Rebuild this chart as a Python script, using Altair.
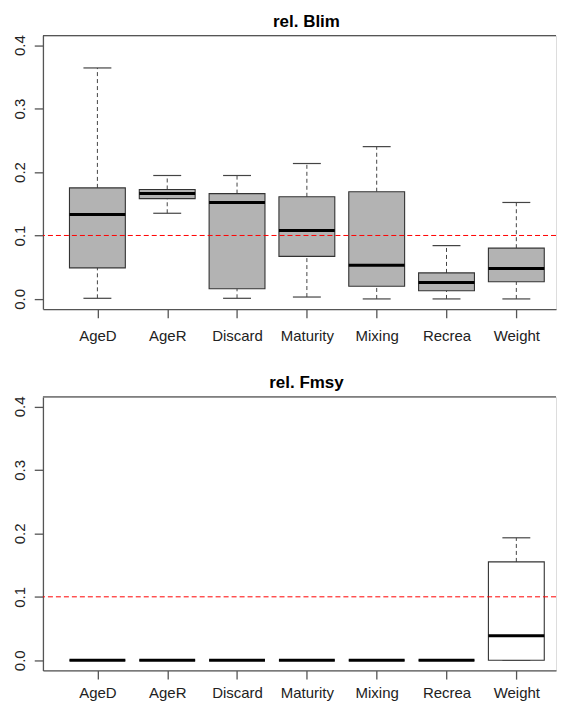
import json
import altair as alt
import pandas as pd

categories = ["AgeD", "AgeR", "Discard", "Maturity", "Mixing", "Recrea", "Weight"]

# rel. Blim box statistics
blim_min = [0.001, 0.135, 0.001, 0.003, 0.000, 0.000, 0.000]
blim_q1 = [0.049, 0.158, 0.016, 0.067, 0.020, 0.013, 0.027]
blim_med = [0.133, 0.166, 0.152, 0.108, 0.053, 0.026, 0.048]
blim_q3 = [0.175, 0.1725, 0.166, 0.161, 0.169, 0.041, 0.080]
blim_max = [0.364, 0.1945, 0.1945, 0.2134, 0.240, 0.084, 0.152]

# rel. Fmsy box statistics
fmsy_min = [0.0, 0.0, 0.0, 0.0, 0.0, 0.0, 0.0]
fmsy_q1 = [0.0, 0.0, 0.0, 0.0, 0.0, 0.0, 0.0]
fmsy_med = [0.0, 0.0, 0.0, 0.0, 0.0, 0.0, 0.0387]
fmsy_q3 = [0.0, 0.0, 0.0, 0.0, 0.0, 0.0, 0.155]
fmsy_max = [0.0, 0.0, 0.0, 0.0, 0.0, 0.0, 0.193]

titles = ["rel. Blim", "rel. Fmsy"]
ref_value = 0.1
y_ticks = [0.0, 0.1, 0.2, 0.3, 0.4]

W = 514
H = 274
STEP = 69.95
XDOM = [0.22, 0.22 + W / STEP]
YDOM = [-0.016, 0.415]
FONT = "Liberation Sans"


def make_df(mins, q1s, meds, q3s, maxs):
    return pd.DataFrame({
        "cat": categories,
        "pos": list(range(1, len(categories) + 1)),
        "lo": mins, "q1": q1s, "med": meds, "q3": q3s, "hi": maxs,
    })


label_expr = json.dumps(categories) + "[datum.value - 1]"

y_axis = alt.Axis(values=y_ticks, format=".1f", title=None, grid=False,
                  tickSize=8.7, labelPadding=7, labelAngle=270, labelAlign="center",
                  labelBaseline="bottom", labelFontSize=15, labelFont=FONT,
                  labelColor="#222", domainColor="#555", tickColor="#555",
                  domainWidth=1.3, tickWidth=1.3, labelOverlap=False, labelFlush=False)

xs = alt.Scale(domain=XDOM, nice=False, zero=False)
ys = alt.Scale(domain=YDOM, nice=False, zero=False)


def panel(df, title, fill, label_pad):
    x_axis = alt.Axis(values=list(range(1, len(categories) + 1)), labelExpr=label_expr,
                      title=None, grid=False, tickSize=8.7, labelPadding=label_pad,
                      labelFontSize=15, labelFont=FONT, labelColor="#222",
                      domainColor="#555", tickColor="#555", domainWidth=1.3, tickWidth=1.3,
                      labelOverlap=False, labelFlush=False)

    def X(f):
        return alt.X(f + ":Q", scale=xs, axis=x_axis)

    def Y(f):
        return alt.Y(f + ":Q", scale=ys, axis=y_axis)

    base = alt.Chart(df).transform_calculate(
        bx="datum.pos - 0.4", bx2="datum.pos + 0.4",
        cx="datum.pos - 0.2", cx2="datum.pos + 0.2",
    )
    wh_up = base.mark_rule(color="#444", strokeDash=[4, 3], strokeWidth=1).encode(
        x=X("pos"), y=Y("q3"), y2="hi:Q")
    wh_lo = base.mark_rule(color="#444", strokeDash=[4, 3], strokeWidth=1).encode(
        x=X("pos"), y=Y("lo"), y2="q1:Q")
    cap_up = base.mark_rule(color="#444", strokeWidth=1.2).encode(
        x=X("cx"), x2="cx2:Q", y=Y("hi"))
    cap_lo = base.mark_rule(color="#444", strokeWidth=1.2).encode(
        x=X("cx"), x2="cx2:Q", y=Y("lo"))
    box = base.mark_rect(fill=fill, stroke="#333", strokeWidth=1.1).encode(
        x=X("bx"), x2="bx2:Q", y=Y("q1"), y2="q3:Q")
    med = base.mark_rule(color="black", strokeWidth=3).encode(
        x=X("bx"), x2="bx2:Q", y=Y("med"))
    ref = alt.Chart(pd.DataFrame({"v": [ref_value]})).mark_rule(
        color="#ff0000", strokeDash=[5, 3], strokeWidth=1).encode(y=Y("v"))
    border = alt.Chart(pd.DataFrame({"v": [0]})).mark_rule(
        color="#555", strokeWidth=1.3).encode(
        x=alt.value(0), x2=alt.value(W), y=alt.value(0))
    ttl = alt.Chart(pd.DataFrame({"t": [title]})).mark_text(
        font=FONT, fontSize=17, fontWeight="bold", color="black",
        align="center", baseline="alphabetic").encode(
        text="t:N", x=alt.value(264), y=alt.value(-9))
    return alt.layer(wh_up, wh_lo, cap_up, cap_lo, box, med, ref, border, ttl).properties(
        width=W, height=H)


top = panel(make_df(blim_min, blim_q1, blim_med, blim_q3, blim_max), titles[0], "#B3B3B3", 11)
bottom = panel(make_df(fmsy_min, fmsy_q1, fmsy_med, fmsy_q3, fmsy_max), titles[1], "white", 6.5)

chart = alt.vconcat(top, bottom, spacing=28).properties(
    padding={"left": 3, "top": 3, "right": 0, "bottom": 0}
).configure_view(stroke=None).configure(background="white")

chart.save("out.html", embed_options={"renderer": "svg", "actions": False})
